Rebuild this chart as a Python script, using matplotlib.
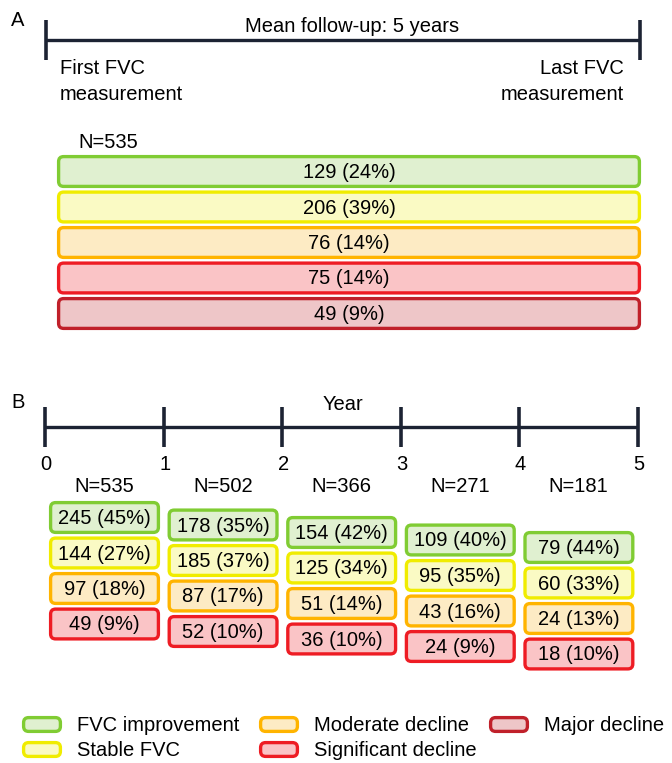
import matplotlib.pyplot as plt
from matplotlib.patches import FancyBboxPatch

plt.rcParams["font.family"] = ["Liberation Sans", "DejaVu Sans"]

# Categories
groups = [
    "FVC improvement",
    "Stable FVC",
    "Moderate decline",
    "Significant decline",
    "Major decline",
]
edge_colors = ["#80cc33", "#f0ec00", "#ffb400", "#ee1c24", "#c0202a"]
fill_colors = ["#e0f0d0", "#fafac4", "#fdebc4", "#fac4c6", "#eec6c8"]

# Panel A: first vs last FVC measurement
total_n = 535
overall_counts = [129, 206, 76, 75, 49]
overall_pct = [24, 39, 14, 14, 9]

# Panel B: year by year
years = [0, 1, 2, 3, 4, 5]
year_n = [535, 502, 366, 271, 181]
year_counts = [
    [245, 144, 97, 49],
    [178, 185, 87, 52],
    [154, 125, 51, 36],
    [109, 95, 43, 24],
    [79, 60, 24, 18],
]
year_pct = [
    [45, 27, 18, 9],
    [35, 37, 17, 10],
    [42, 34, 14, 10],
    [40, 35, 16, 9],
    [44, 33, 13, 10],
]

line_color = "#1c2333"
fs = 14.5
edge_lw = 2.4
dy = 2  # small nudge so text sits like in the original


def draw_box(ax, x, y, w, h, i, label=None):
    # rounded box, x/y = outer top-left corner in pixels
    inset = 1.6
    box = FancyBboxPatch(
        (x + inset, y + inset), w - 2 * inset, h - 2 * inset,
        boxstyle="round,pad=0,rounding_size=5",
        facecolor=fill_colors[i],
        edgecolor=edge_colors[i],
        linewidth=edge_lw
    )
    ax.add_patch(box)
    if label is not None:
        ax.text(x + w / 2, y + h / 2 + 1, label, ha="center",
                va="center", fontsize=fs)


fig = plt.figure(figsize=(6.72, 7.63), dpi=100)
ax = fig.add_axes([0, 0, 1, 1])
ax.set_xlim(0, 672)
ax.set_ylim(763, 0)
ax.axis("off")

# ---------------- Panel A ----------------
ax.text(11, 19 + dy, "A", fontsize=fs, va="center", ha="left")

a_left, a_right, a_y = 46, 640, 40
ax.plot([a_left, a_right], [a_y, a_y], color=line_color, lw=2.4,
        solid_capstyle="butt")
for xx in [a_left, a_right]:
    ax.plot([xx, xx], [a_y - 20, a_y + 20], color=line_color, lw=2.6,
            solid_capstyle="butt")

ax.text(352, 25 + dy, "Mean follow-up: 5 years", ha="center", va="center",
        fontsize=fs)
ax.text(60, 67 + dy, "First FVC", ha="left", va="center", fontsize=fs)
ax.text(60, 92 + dy, "measurement", ha="left", va="center", fontsize=fs)
ax.text(624, 67 + dy, "Last FVC", ha="right", va="center", fontsize=fs)
ax.text(624, 92 + dy, "measurement", ha="right", va="center", fontsize=fs)

ax.text(78, 140 + dy, "N=" + str(total_n), ha="left", va="center",
        fontsize=fs)

a_top, a_pitch, a_h = 155, 35.5, 33
for i in range(len(groups)):
    label = f"{overall_counts[i]} ({overall_pct[i]}%)"
    draw_box(ax, 57, a_top + i * a_pitch, 584, a_h, i, label)

# ---------------- Panel B ----------------
ax.text(11, 400 + dy, "B", fontsize=fs, va="center", ha="left")

b_left, b_step, b_y = 45, 118.6, 427
ax.plot([b_left, b_left + b_step * years[-1]], [b_y, b_y],
        color=line_color, lw=2.4, solid_capstyle="butt")
for yr in years:
    xx = b_left + b_step * yr
    ax.plot([xx, xx], [b_y - 20, b_y + 20], color=line_color, lw=2.6,
            solid_capstyle="butt")
    ax.text(xx + 1, 463 + dy, str(yr), ha="center", va="center",
            fontsize=fs)

ax.text(343, 403 + dy, "Year", ha="center", va="center", fontsize=fs)

b_top, b_shift, b_pitch, b_h, b_w = 501, 7.5, 35.5, 33, 111
for c in range(len(year_n)):
    x0 = b_left + b_step * years[c]
    ax.text(x0 + b_step / 2, 485 + dy, "N=" + str(year_n[c]), ha="center",
            va="center", fontsize=fs)
    for i in range(len(year_counts[c])):
        label = f"{year_counts[c][i]} ({year_pct[c][i]}%)"
        draw_box(ax, x0 + 4, b_top + c * b_shift + i * b_pitch,
                 b_w, b_h, i, label)

# ---------------- Legend ----------------
legend_pos = [
    (22, 716), (22, 741),
    (259, 716), (259, 741),
    (489, 716),
]
for i, (lx, ly) in enumerate(legend_pos):
    draw_box(ax, lx, ly, 40, 17, i)
    ax.text(lx + 55, ly + 8.5 + 1, groups[i], ha="left", va="center",
            fontsize=fs)

plt.savefig("out.png", dpi=100)
plt.close()
